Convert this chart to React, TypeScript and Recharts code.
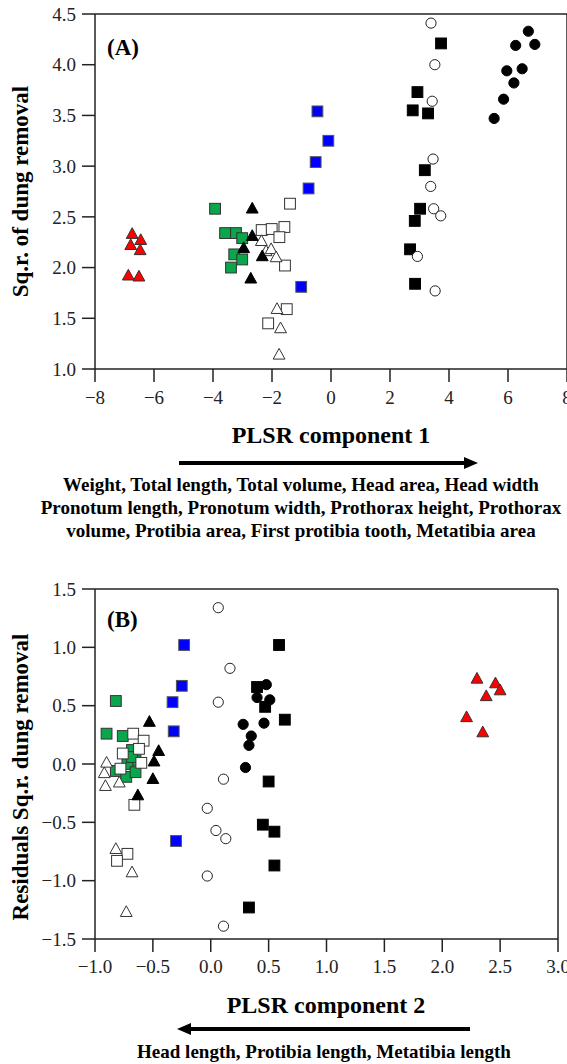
import React from 'react';
import { ScatterChart, Scatter, XAxis, YAxis, ReferenceLine } from 'recharts';

type P = { x: number; y: number };

// ---------- Panel A data ----------
const aRedTri: P[] = [
  { x: -6.74, y: 2.33 }, { x: -6.79, y: 2.22 }, { x: -6.45, y: 2.27 },
  { x: -6.47, y: 2.17 }, { x: -6.87, y: 1.92 }, { x: -6.51, y: 1.91 },
];
const aGreenSq: P[] = [
  { x: -3.93, y: 2.58 }, { x: -3.59, y: 2.34 }, { x: -3.22, y: 2.34 }, { x: -3.01, y: 2.29 },
  { x: -3.28, y: 2.13 }, { x: -3.01, y: 2.08 }, { x: -3.39, y: 2.0 },
];
const aOpenSq: P[] = [
  { x: -1.39, y: 2.63 }, { x: -2.35, y: 2.37 }, { x: -2.01, y: 2.38 }, { x: -1.58, y: 2.4 },
  { x: -1.75, y: 2.3 }, { x: -1.56, y: 2.02 }, { x: -1.5, y: 1.59 }, { x: -2.13, y: 1.45 },
];
const aOpenTri: P[] = [
  { x: -2.36, y: 2.26 }, { x: -2.2, y: 2.16 }, { x: -2.03, y: 2.18 }, { x: -1.86, y: 2.1 },
  { x: -1.83, y: 1.59 }, { x: -1.71, y: 1.4 }, { x: -1.76, y: 1.14 },
];
const aBlackTri: P[] = [
  { x: -2.67, y: 2.58 }, { x: -2.67, y: 2.31 }, { x: -2.96, y: 2.19 },
  { x: -2.33, y: 2.11 }, { x: -2.72, y: 1.89 },
];
const aBlueSq: P[] = [
  { x: -0.46, y: 3.54 }, { x: -0.09, y: 3.25 }, { x: -0.52, y: 3.04 },
  { x: -0.76, y: 2.78 }, { x: -1.01, y: 1.81 },
];
const aBlackSq: P[] = [
  { x: 3.73, y: 4.21 }, { x: 2.93, y: 3.73 }, { x: 2.77, y: 3.55 }, { x: 3.29, y: 3.52 },
  { x: 3.18, y: 2.96 }, { x: 3.02, y: 2.58 }, { x: 2.84, y: 2.46 }, { x: 2.68, y: 2.18 },
  { x: 2.85, y: 1.84 },
];
const aOpenCirc: P[] = [
  { x: 3.39, y: 4.41 }, { x: 3.52, y: 4.0 }, { x: 3.43, y: 3.64 }, { x: 3.46, y: 3.07 },
  { x: 3.38, y: 2.8 }, { x: 3.48, y: 2.58 }, { x: 3.72, y: 2.51 }, { x: 2.93, y: 2.11 },
  { x: 3.53, y: 1.77 },
];
const aBlackCirc: P[] = [
  { x: 6.69, y: 4.33 }, { x: 6.26, y: 4.19 }, { x: 6.91, y: 4.2 }, { x: 5.96, y: 3.94 },
  { x: 6.48, y: 3.96 }, { x: 6.2, y: 3.82 }, { x: 5.85, y: 3.66 }, { x: 5.53, y: 3.47 },
];

// ---------- Panel B data ----------
const bRedTri: P[] = [
  { x: 2.3, y: 0.73 }, { x: 2.46, y: 0.69 }, { x: 2.5, y: 0.63 },
  { x: 2.38, y: 0.58 }, { x: 2.21, y: 0.4 }, { x: 2.35, y: 0.27 },
];
const bGreenSq: P[] = [
  { x: -0.82, y: 0.54 }, { x: -0.9, y: 0.26 }, { x: -0.76, y: 0.24 }, { x: -0.68, y: 0.12 },
  { x: -0.65, y: 0.03 }, { x: -0.72, y: 0.0 }, { x: -0.82, y: -0.06 }, { x: -0.73, y: -0.11 },
  { x: -0.65, y: -0.07 }, { x: -0.68, y: 0.06 },
];
const bOpenSq: P[] = [
  { x: -0.67, y: 0.26 }, { x: -0.58, y: 0.2 }, { x: -0.76, y: 0.09 }, { x: -0.62, y: 0.13 },
  { x: -0.6, y: 0.01 }, { x: -0.78, y: -0.04 }, { x: -0.66, y: -0.35 }, { x: -0.72, y: -0.77 },
  { x: -0.81, y: -0.83 },
];
const bOpenTri: P[] = [
  { x: -0.9, y: 0.01 }, { x: -0.92, y: -0.08 }, { x: -0.91, y: -0.19 }, { x: -0.79, y: -0.16 },
  { x: -0.82, y: -0.73 }, { x: -0.68, y: -0.93 }, { x: -0.73, y: -1.27 },
];
const bBlackTri: P[] = [
  { x: -0.53, y: 0.36 }, { x: -0.45, y: 0.11 }, { x: -0.49, y: 0.02 },
  { x: -0.5, y: -0.13 }, { x: -0.63, y: -0.27 },
];
const bBlueSq: P[] = [
  { x: -0.23, y: 1.02 }, { x: -0.25, y: 0.67 }, { x: -0.33, y: 0.53 },
  { x: -0.32, y: 0.28 }, { x: -0.3, y: -0.66 },
];
const bOpenCirc: P[] = [
  { x: 0.065, y: 1.34 }, { x: 0.166, y: 0.82 }, { x: 0.065, y: 0.53 }, { x: 0.11, y: -0.13 },
  { x: -0.03, y: -0.38 }, { x: 0.045, y: -0.57 }, { x: 0.13, y: -0.64 }, { x: -0.03, y: -0.96 },
  { x: 0.11, y: -1.39 },
];
const bBlackCirc: P[] = [
  { x: 0.48, y: 0.68 }, { x: 0.4, y: 0.57 }, { x: 0.51, y: 0.55 }, { x: 0.46, y: 0.35 },
  { x: 0.28, y: 0.34 }, { x: 0.35, y: 0.24 }, { x: 0.33, y: 0.16 }, { x: 0.3, y: -0.03 },
];
const bBlackSq: P[] = [
  { x: 0.59, y: 1.02 }, { x: 0.4, y: 0.66 }, { x: 0.47, y: 0.49 }, { x: 0.64, y: 0.38 },
  { x: 0.5, y: -0.15 }, { x: 0.45, y: -0.52 }, { x: 0.55, y: -0.58 }, { x: 0.55, y: -0.87 },
  { x: 0.33, y: -1.23 },
];

// ---------- ticks & labels ----------
const aXTicks = [-8, -6, -4, -2, 0, 2, 4, 6, 8];
const aYTicks = [1.0, 1.5, 2.0, 2.5, 3.0, 3.5, 4.0, 4.5];
const bXTicks = [-1.0, -0.5, 0.0, 0.5, 1.0, 1.5, 2.0, 2.5, 3.0];
const bYTicks = [-1.5, -1.0, -0.5, 0.0, 0.5, 1.0, 1.5];

const aYTitle = 'Sq.r. of dung removal';
const aXTitle = 'PLSR component 1';
const aCaption = [
  'Weight, Total length, Total volume, Head area, Head width',
  'Pronotum length, Pronotum width, Prothorax height, Prothorax',
  'volume, Protibia area, First protibia tooth, Metatibia area',
];
const bYTitle = 'Residuals Sq.r. dung removal';
const bXTitle = 'PLSR component 2';
const bCaption = ['Head length, Protibia length, Metatibia length'];

const SERIF = "'Liberation Serif', 'Times New Roman', serif";
const AX = '#222';
const GREEN = '#0aa64b';
const BLUE = '#0000ff';
const RED = '#ff0000';

const fmt = (d: number) => (v: number) =>
  (v < 0 ? '\u2212' : '') + Math.abs(v).toFixed(d);

type Kind = 'tri' | 'sq' | 'circ';
const makeShape = (kind: Kind, fill: string, stroke: string) => (props: any) => {
  const { cx, cy } = props;
  if (cx == null || cy == null) return <g />;
  if (kind === 'sq') {
    const h = 5.4;
    return <rect x={cx - h} y={cy - h} width={2 * h} height={2 * h} fill={fill} stroke={stroke} strokeWidth={1} />;
  }
  if (kind === 'circ') {
    return <circle cx={cx} cy={cy} r={5.1} fill={fill} stroke={stroke} strokeWidth={1} />;
  }
  const w = 5.9;
  const top = cy - 6.4;
  const bot = cy + 4.3;
  return (
    <polygon
      points={`${cx},${top} ${cx + w},${bot} ${cx - w},${bot}`}
      fill={fill}
      stroke={stroke}
      strokeWidth={1}
    />
  );
};

const S = {
  redTri: makeShape('tri', RED, '#333'),
  greenSq: makeShape('sq', GREEN, '#333'),
  openSq: makeShape('sq', '#fff', '#333'),
  openTri: makeShape('tri', '#fff', '#333'),
  blackTri: makeShape('tri', '#000', '#000'),
  blueSq: makeShape('sq', BLUE, '#555'),
  blackSq: makeShape('sq', '#000', '#000'),
  openCirc: makeShape('circ', '#fff', '#222'),
  blackCirc: makeShape('circ', '#000', '#000'),
};

const tickStyle = { fontSize: 19, fill: AX, fontFamily: SERIF };
const lineStyle = { stroke: AX, strokeWidth: 1.5 };

function PanelA() {
  return (
    <ScatterChart width={600} height={410} margin={{ top: 14, right: 33, left: 0, bottom: 0 }}>
      <XAxis
        type="number" dataKey="x" domain={[-8, 8]} ticks={aXTicks} interval={0}
        tickFormatter={fmt(0)} tickSize={13} tickMargin={9} height={41}
        axisLine={lineStyle} tickLine={lineStyle} tick={tickStyle} allowDataOverflow
      />
      <YAxis
        type="number" dataKey="y" domain={[1, 4.5]} ticks={aYTicks} interval={0}
        tickFormatter={fmt(1)} tickSize={13} tickMargin={6} width={95}
        axisLine={lineStyle} tickLine={lineStyle} tick={tickStyle} allowDataOverflow
      />
      <ReferenceLine y={4.5} stroke={AX} strokeWidth={1.5} />
      <ReferenceLine x={8} stroke={AX} strokeWidth={1.5} />
      <Scatter data={aGreenSq} shape={S.greenSq} isAnimationActive={false} />
      <Scatter data={aOpenSq} shape={S.openSq} isAnimationActive={false} />
      <Scatter data={aOpenTri} shape={S.openTri} isAnimationActive={false} />
      <Scatter data={aBlackTri} shape={S.blackTri} isAnimationActive={false} />
      <Scatter data={aBlueSq} shape={S.blueSq} isAnimationActive={false} />
      <Scatter data={aRedTri} shape={S.redTri} isAnimationActive={false} />
      <Scatter data={aBlackSq} shape={S.blackSq} isAnimationActive={false} />
      <Scatter data={aOpenCirc} shape={S.openCirc} isAnimationActive={false} />
      <Scatter data={aBlackCirc} shape={S.blackCirc} isAnimationActive={false} />
    </ScatterChart>
  );
}

function PanelB() {
  return (
    <ScatterChart width={567} height={405} margin={{ top: 14, right: 9, left: 0, bottom: 0 }}>
      <XAxis
        type="number" dataKey="x" domain={[-1, 3]} ticks={bXTicks} interval={0}
        tickFormatter={fmt(1)} tickSize={13} tickMargin={8} height={41}
        axisLine={lineStyle} tickLine={lineStyle} tick={tickStyle} allowDataOverflow
      />
      <YAxis
        type="number" dataKey="y" domain={[-1.5, 1.5]} ticks={bYTicks} interval={0}
        tickFormatter={fmt(1)} tickSize={13} tickMargin={6} width={95}
        axisLine={lineStyle} tickLine={lineStyle} tick={tickStyle} allowDataOverflow
      />
      <ReferenceLine y={1.5} stroke={AX} strokeWidth={1.5} />
      <ReferenceLine x={3} stroke={AX} strokeWidth={1.5} />
      <Scatter data={bGreenSq} shape={S.greenSq} isAnimationActive={false} />
      <Scatter data={bOpenSq} shape={S.openSq} isAnimationActive={false} />
      <Scatter data={bOpenTri} shape={S.openTri} isAnimationActive={false} />
      <Scatter data={bBlackTri} shape={S.blackTri} isAnimationActive={false} />
      <Scatter data={bBlueSq} shape={S.blueSq} isAnimationActive={false} />
      <Scatter data={bRedTri} shape={S.redTri} isAnimationActive={false} />
      <Scatter data={bOpenCirc} shape={S.openCirc} isAnimationActive={false} />
      <Scatter data={bBlackCirc} shape={S.blackCirc} isAnimationActive={false} />
      <Scatter data={bBlackSq} shape={S.blackSq} isAnimationActive={false} />
    </ScatterChart>
  );
}

function Overlay() {
  const bold = { fontFamily: SERIF, fontWeight: 700, fill: '#000' } as const;
  return (
    <svg width={567} height={1064} style={{ position: 'absolute', left: 0, top: 0, pointerEvents: 'none' }}>
      <text x={107} y={55} fontSize={23} {...bold}>(A)</text>
      <text x={107} y={627} fontSize={23} {...bold}>(B)</text>
      <text transform="translate(28,191.5) rotate(-90)" textAnchor="middle" fontSize={23} {...bold}>{aYTitle}</text>
      <text transform="translate(28,777) rotate(-90)" textAnchor="middle" fontSize={23} {...bold}>{bYTitle}</text>

      <text x={331} y={443} textAnchor="middle" fontSize={24} {...bold}>{aXTitle}</text>
      <line x1={179} y1={463} x2={466} y2={463} stroke="#000" strokeWidth={4} />
      <polygon points="478,463 464,457 464,469" fill="#000" />
      {aCaption.map((t, i) => (
        <text key={i} x={301} y={491 + i * 23} textAnchor="middle" fontSize={19} {...bold}>{t}</text>
      ))}

      <text x={326} y={1013} textAnchor="middle" fontSize={24} {...bold}>{bXTitle}</text>
      <line x1={189} y1={1029} x2={470} y2={1029} stroke="#000" strokeWidth={4} />
      <polygon points="177,1029 191,1023 191,1035" fill="#000" />
      {bCaption.map((t, i) => (
        <text key={i} x={324} y={1058 + i * 23} textAnchor="middle" fontSize={19} {...bold}>{t}</text>
      ))}
    </svg>
  );
}

export default function App() {
  return (
    <div style={{ position: 'absolute', left: 0, top: 0, width: 567, height: 1064, overflow: 'hidden', background: '#fff' }}>
      <div style={{ position: 'absolute', left: 0, top: 0 }}>
        <PanelA />
      </div>
      <div style={{ position: 'absolute', left: 0, top: 575 }}>
        <PanelB />
      </div>
      <Overlay />
    </div>
  );
}
